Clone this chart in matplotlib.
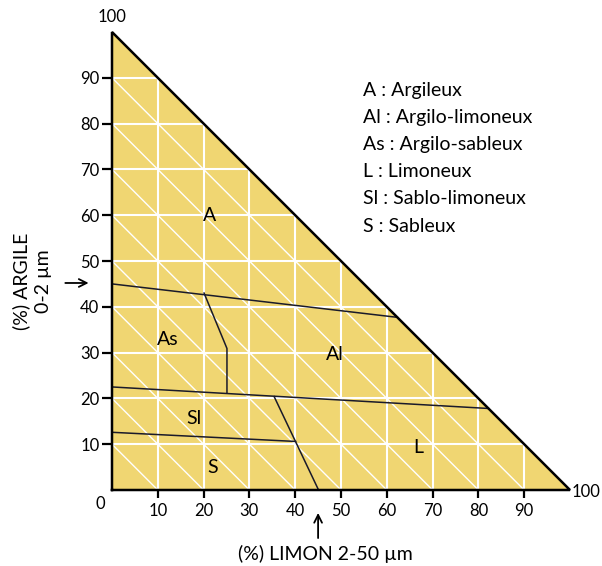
import matplotlib.pyplot as plt
from matplotlib.patches import Polygon

plt.rcParams['font.family'] = ['Lato', 'DejaVu Sans']

# texture classes (limon %, argile %)
ticks = [10, 20, 30, 40, 50, 60, 70, 80, 90]

line_a_top = [(0, 45), (62.3, 37.7)]
line_sl_top = [(0, 22.5), (82.2, 17.8)]
line_s_top = [(0, 12.6), (40.1, 10.6)]
line_as_al = [(20.1, 43.0), (25.1, 30.9), (25.1, 21.2)]
line_sl_l = [(35.4, 20.4), (45.1, 0)]
boundaries = [line_a_top, line_sl_top, line_s_top, line_as_al, line_sl_l]

zone_labels = ['A', 'As', 'Al', 'Sl', 'S', 'L']
zone_x = [21.4, 12.2, 48.7, 18.0, 22.0, 66.8]
zone_y = [60.0, 32.8, 29.5, 15.7, 5.0, 9.2]

legend_lines = ['A : Argileux', 'Al : Argilo-limoneux', 'As : Argilo-sableux',
                'L : Limoneux', 'Sl : Sablo-limoneux', 'S : Sableux']

fig = plt.figure(figsize=(6.02, 5.66), dpi=100)
ax = fig.add_axes([112 / 602, 76 / 566, 458 / 602, 458 / 566])
ax.set_xlim(0, 100)
ax.set_ylim(0, 100)
for s in ax.spines.values():
    s.set_visible(False)

tri = Polygon([(0, 0), (100, 0), (0, 100)], closed=True, facecolor='#F0D672',
              edgecolor='none', zorder=1)
ax.add_patch(tri)

# white grid inside the triangle
for t in ticks:
    ax.plot([t, t], [0, 100 - t], color='white', lw=1.5, zorder=2)
    ax.plot([0, 100 - t], [t, t], color='white', lw=1.5, zorder=2)
    ax.plot([0, t], [t, 0], color='white', lw=1.0, zorder=2)

ax.plot([0, 100, 0, 0], [0, 0, 100, 0], color='black', lw=1.8, zorder=4,
        solid_joinstyle='miter', clip_on=False)

for b in boundaries:
    xs = [p[0] for p in b]
    ys = [p[1] for p in b]
    ax.plot(xs, ys, color='#1a1a2a', lw=1.1, zorder=3)

for lab, x, y in zip(zone_labels, zone_x, zone_y):
    ax.text(x, y, lab, fontsize=14, ha='center', va='center', zorder=5)

ax.set_xticks(ticks)
ax.set_yticks(ticks)
ax.tick_params(axis='both', direction='out', width=1.6, labelsize=12,
               colors='black')
ax.tick_params(axis='x', length=6, pad=3)
ax.tick_params(axis='y', length=7, pad=2)

ax.text(-2.6, -3.0, '0', fontsize=12, ha='center', va='center')
ax.text(0, 103.2, '100', fontsize=12, ha='center', va='center')
ax.text(100.4, -0.4, '100', fontsize=12, ha='left', va='center')

for i, line in enumerate(legend_lines):
    ax.text(54.8, 87.3 - i * 5.94, line, fontsize=14, ha='left', va='center')

ax.annotate('', xy=(-4.5, 45.2), xytext=(-10.8, 45.2),
            arrowprops=dict(arrowstyle='->', lw=1.3, color='black',
                            mutation_scale=14), annotation_clip=False)
ax.annotate('', xy=(45.0, -4.4), xytext=(45.0, -11.1),
            arrowprops=dict(arrowstyle='->', lw=1.3, color='black',
                            mutation_scale=14), annotation_clip=False)

fig.text(32 / 602, 1 - 281 / 566, '(%) ARGILE\n0-2 µm', rotation=90,
         fontsize=14, ha='center', va='center', multialignment='center',
         linespacing=1.3)
fig.text(325 / 602, 1 - 554 / 566, '(%) LIMON 2-50 µm', fontsize=14,
         ha='center', va='center')

fig.savefig('out.png', dpi=100)
